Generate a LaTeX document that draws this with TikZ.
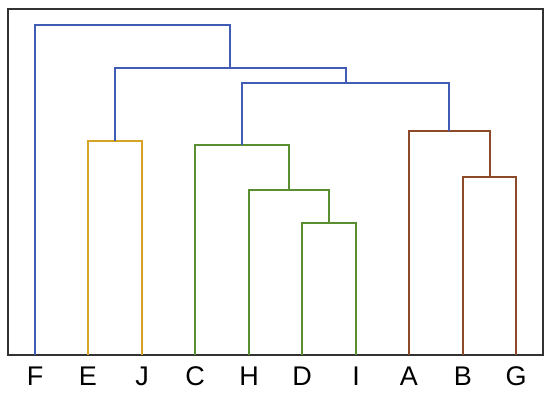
\documentclass[tikz,border=0pt]{standalone}
\usepackage{fontspec}
\setmainfont{Liberation Sans}
\definecolor{cblue}{RGB}{64,92,180}
\definecolor{cgold}{RGB}{214,164,36}
\definecolor{cgreen}{RGB}{90,142,48}
\definecolor{cbrown}{RGB}{140,74,42}
\definecolor{cframe}{RGB}{50,50,50}
\begin{document}
\begin{tikzpicture}[x=1pt,y=-1pt,
  link/.style={line width=2pt},
  leaflabel/.style={anchor=base,inner sep=0pt,font=\fontsize{27}{27}\selectfont}]
\useasboundingbox (0,0) rectangle (550,396);
\draw[cframe,line width=1.3pt] (8,9) rectangle (543,355);
% leaves
\foreach \n/\x in {F/35,E/88,J/142,C/195,H/249,D/302,I/356,A/409,B/463,G/516}{
  \coordinate (\n) at (\x,355);
  \node[leaflabel] (l\n) at (\x,385) {\n};
}
% merge points
\coordinate (mDI) at (329,223);
\coordinate (mHDI) at (289,190);
\coordinate (mC) at (242,145);
\coordinate (mBG) at (489.5,177);
\coordinate (mA) at (449,131);
\coordinate (mEJ) at (115,141);
\coordinate (mCA) at (345.5,83);
\coordinate (mEC) at (230,68);
\coordinate (mF) at (132,25);
% green cluster
\draw[link,cgreen] (D) |- (mDI) -| (I);
\draw[link,cgreen] (H) |- (mHDI) -| (mDI);
\draw[link,cgreen] (C) |- (mC) -| (mHDI);
% brown cluster
\draw[link,cbrown] (B) |- (mBG) -| (G);
\draw[link,cbrown] (A) |- (mA) -| (mBG);
% gold cluster
\draw[link,cgold] (E) |- (mEJ) -| (J);
% blue links
\draw[link,cblue] (mC) |- (mCA) -| (mA);
\draw[link,cblue] (mEJ) |- (mEC) -| (mCA);
\draw[link,cblue] (F) |- (mF) -| (mEC);
\end{tikzpicture}
\end{document}
